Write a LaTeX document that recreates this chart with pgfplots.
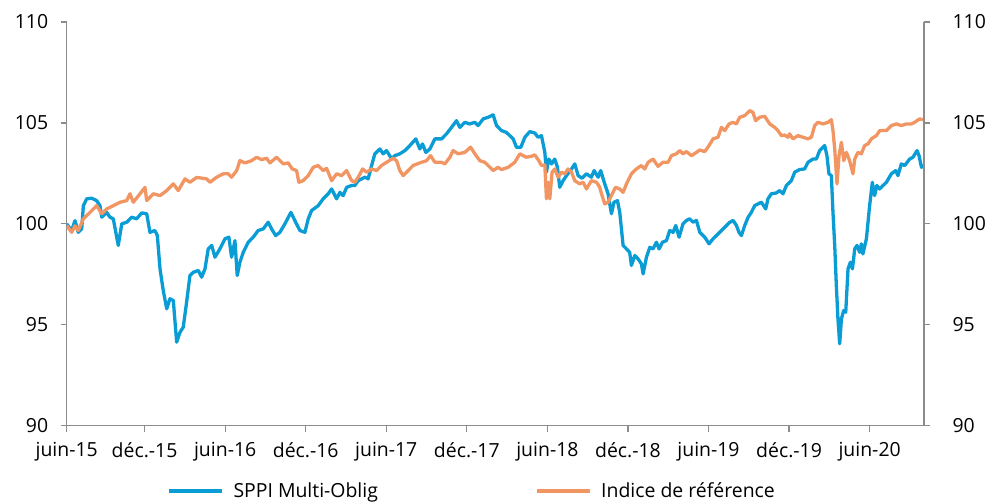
\documentclass[border=0pt]{standalone}
\usepackage{fontspec}
\setmainfont{Open Sans}
\usepackage{pgfplots}
\usepackage{pgfplotstable}
\pgfplotsset{compat=1.18}
\definecolor{sppi}{RGB}{10,156,212}
\definecolor{ind}{RGB}{241,149,99}
\definecolor{axgray}{RGB}{140,140,140}

\pgfplotstableread{
m v
0.20 100.00
0.57 99.67
0.82 100.16
1.06 99.58
1.32 99.75
1.44 100.90
1.69 101.24
2.06 101.27
2.43 101.15
2.68 100.90
2.81 100.33
3.18 100.57
3.42 100.33
3.67 100.25
4.04 98.93
4.30 100.00
4.67 100.08
5.04 100.33
5.41 100.25
5.78 100.54
6.16 100.50
6.40 99.58
6.77 99.67
6.95 99.42
7.15 97.77
7.39 96.70
7.65 95.79
7.89 96.29
8.14 96.20
8.39 94.14
8.64 94.63
8.88 94.88
9.13 96.12
9.38 97.44
9.63 97.60
10.00 97.69
10.25 97.36
10.50 97.77
10.74 98.76
11.00 98.93
11.24 98.35
11.61 98.76
11.99 99.26
12.28 99.34
12.48 98.35
12.73 99.17
12.90 97.44
13.10 98.10
13.35 98.59
13.72 99.09
14.09 99.34
14.46 99.67
14.84 99.75
15.21 100.08
15.46 99.75
15.76 99.42
16.08 99.58
16.45 100.00
16.90 100.57
17.25 100.08
17.57 99.67
17.94 99.58
18.19 100.25
18.44 100.66
18.93 100.90
19.30 101.24
19.68 101.49
19.93 101.73
20.30 101.24
20.55 101.56
20.79 101.40
21.05 101.81
21.42 101.90
21.66 101.90
21.91 102.14
22.41 102.31
22.65 102.23
22.91 102.89
23.15 103.47
23.52 103.71
23.77 103.47
24.02 103.63
24.40 103.22
24.64 103.38
25.01 103.47
25.39 103.63
25.76 103.88
26.20 104.21
26.50 103.71
26.70 103.96
26.95 103.54
27.25 103.71
27.62 104.21
28.12 104.21
28.49 104.46
28.86 104.78
29.23 105.11
29.48 104.78
29.85 105.03
30.22 104.95
30.60 105.03
30.84 104.87
31.22 105.20
31.59 105.28
31.96 105.40
32.21 104.87
32.58 104.62
32.95 104.53
33.20 104.37
33.45 104.21
33.70 103.79
34.02 103.79
34.32 104.29
34.69 104.57
35.06 104.50
35.31 104.29
35.56 104.37
35.81 103.54
35.93 102.56
36.10 103.21
36.31 102.97
36.55 103.21
36.75 102.80
36.92 101.81
37.17 102.14
37.42 102.39
37.80 102.72
38.04 102.97
38.29 102.39
38.58 102.26
38.91 102.48
39.28 102.31
39.48 102.64
39.78 102.31
39.97 102.64
40.27 101.98
40.52 101.49
40.77 100.50
40.96 101.07
41.22 101.15
41.39 100.57
41.64 98.93
41.89 98.76
42.13 98.59
42.26 97.94
42.51 98.43
42.75 98.27
43.00 98.02
43.13 97.52
43.38 98.35
43.63 98.84
43.87 98.76
44.12 99.09
44.32 98.76
44.57 99.09
44.87 99.17
45.11 99.67
45.36 99.58
45.56 99.92
45.81 99.34
46.10 100.00
46.36 100.17
46.60 100.25
46.85 100.08
47.10 100.17
47.35 99.58
47.72 99.34
48.04 99.01
48.34 99.26
48.71 99.50
48.96 99.67
49.21 99.83
49.53 100.05
49.83 100.17
50.08 99.92
50.27 99.58
50.45 99.42
50.70 99.92
50.95 100.33
51.19 100.57
51.44 100.90
51.69 100.99
51.94 101.07
52.26 100.74
52.43 101.24
52.68 101.49
53.05 101.53
53.30 101.65
53.55 101.49
53.80 101.90
54.17 102.14
54.42 102.56
54.79 102.69
55.16 102.72
55.41 103.05
55.78 103.21
56.03 103.21
56.28 103.63
56.65 103.88
56.82 103.38
56.97 102.48
57.15 102.39
57.27 100.57
57.40 98.93
57.52 96.95
57.64 95.30
57.77 94.06
57.90 95.30
58.07 95.71
58.22 95.62
58.39 97.77
58.57 98.10
58.72 97.77
58.89 98.76
59.06 98.93
59.26 98.59
59.38 99.01
59.50 98.51
59.76 99.26
60.00 100.90
60.20 102.06
60.37 101.40
60.54 101.90
60.75 101.73
61.00 101.90
61.25 102.06
61.62 102.48
61.94 102.64
62.11 102.39
62.36 102.97
62.61 102.89
62.98 103.21
63.23 103.30
63.53 103.63
63.68 103.38
63.86 102.80
64.03 102.89
}\sppitable

\pgfplotstableread{
m v
0.20 99.92
0.57 99.58
0.82 99.90
1.06 99.67
1.44 100.25
1.94 100.57
2.43 100.90
2.81 100.50
3.18 100.74
3.67 100.90
4.17 101.07
4.67 101.15
4.91 101.49
5.16 101.07
5.66 101.49
6.03 101.81
6.16 101.15
6.65 101.49
7.15 101.40
7.65 101.65
8.14 101.98
8.51 101.65
9.01 102.23
9.38 102.06
9.88 102.30
10.62 102.23
10.87 102.06
11.37 102.31
11.86 102.48
12.23 102.48
12.48 102.31
12.86 102.64
13.10 103.13
13.47 103.02
13.97 103.13
14.35 103.30
14.72 103.18
15.09 103.25
15.34 103.02
15.83 103.30
16.33 102.97
16.70 103.02
17.00 102.72
17.32 102.64
17.49 102.06
17.81 102.14
18.19 102.39
18.56 102.80
18.93 102.89
19.30 102.64
19.56 102.75
19.93 102.14
20.30 102.48
20.67 102.39
21.05 102.64
21.42 102.14
21.66 102.06
21.91 102.31
22.24 102.72
22.53 102.56
22.91 102.72
23.28 102.64
23.65 102.89
24.02 103.05
24.51 103.25
24.77 103.13
25.01 102.64
25.26 102.39
25.63 102.64
26.00 102.89
26.50 103.02
27.00 103.13
27.30 103.38
27.62 103.05
28.12 103.05
28.36 102.97
28.74 103.30
28.98 103.63
29.35 103.47
29.85 103.54
30.28 103.80
30.60 103.47
30.97 103.13
31.34 103.05
31.59 102.89
31.96 102.64
32.33 102.80
32.58 102.69
33.08 102.80
33.57 103.05
33.95 103.47
34.19 103.38
34.44 103.30
34.82 103.35
35.06 103.42
35.36 103.13
35.56 102.89
35.81 102.92
35.93 101.24
36.05 102.06
36.18 101.24
36.35 102.56
36.55 102.72
36.80 102.31
37.05 102.56
37.30 102.48
37.54 102.72
37.80 102.56
38.04 102.14
38.41 101.98
38.66 102.06
38.91 101.73
39.28 102.14
39.66 102.06
39.90 101.81
40.03 101.49
40.27 100.99
40.52 101.07
40.77 101.40
41.07 101.81
41.39 101.73
41.64 101.56
41.89 101.98
42.26 102.48
42.63 102.72
43.00 102.89
43.25 102.72
43.50 103.05
43.87 103.21
44.24 102.85
44.61 103.05
44.99 103.05
45.24 103.38
45.61 103.47
45.86 103.63
46.10 103.47
46.36 103.58
46.73 103.38
47.10 103.54
47.35 103.66
47.72 103.58
48.04 103.88
48.34 104.21
48.71 104.29
48.96 104.78
49.21 104.62
49.53 104.95
49.83 105.03
50.08 104.95
50.32 105.28
50.70 105.36
51.07 105.61
51.31 105.52
51.51 105.11
51.81 105.28
52.18 105.33
52.56 104.95
52.93 104.78
53.17 104.62
53.43 104.37
53.67 104.40
53.92 104.29
54.04 104.46
54.29 104.21
54.66 104.37
55.04 104.29
55.41 104.21
55.66 104.29
55.91 104.87
56.15 105.03
56.53 104.95
56.90 105.03
57.15 105.16
57.27 104.62
57.40 103.71
57.57 101.98
57.72 103.38
57.90 104.04
58.07 103.13
58.27 103.54
58.51 103.13
58.76 102.48
58.89 103.21
59.13 103.54
59.38 103.47
59.63 103.88
59.88 103.96
60.13 104.21
60.50 104.37
60.75 104.62
61.25 104.62
61.62 104.87
61.99 104.95
62.36 104.87
62.74 104.95
63.11 104.95
63.35 105.03
63.72 105.20
63.97 105.16
}\indtable

\begin{document}
\begin{tikzpicture}
\path[use as bounding box] (-66.7bp,-76.3bp) rectangle (920.3bp,425.7bp);
\pgfplotsset{
  common/.style={
    at={(0,0)}, anchor=south west,
    scale only axis, width=857.3bp, height=403.7bp,
    xmin=0.2, xmax=64.05, ymin=90, ymax=110,
    ytick={90,95,100,105,110},
    tick align=outside,
    major tick length=6bp,
    tick style={axgray, line width=1.2bp},
    axis line style={axgray, line width=1.2bp},
    /pgf/number format/assume math mode=true,
    tick label style={font=\fontsize{19.5}{22}\selectfont, text=black},
  }
}
\begin{axis}[common,
  axis x line*=bottom, axis y line*=left,
  xtick={0.2,6,12,18,24,30,36,42,48,54,60},
  xticklabels={juin-15,déc.-15,juin-16,déc.-16,juin-17,déc.-17,juin-18,déc.-18,juin-19,déc.-19,juin-20},
  x tick label style={yshift=-7bp},
  y tick label style={xshift=-9bp},
  legend columns=2,
  legend style={at={(0.117,-0.162)}, anchor=west, draw=none, fill=none,
    inner sep=0pt, font=\fontsize{19.5}{22}\selectfont,
    /tikz/every even column/.append style={column sep=155bp}},
  legend image code/.code={\draw[#1] (0bp,0bp) -- (53bp,0bp); \path (61bp,0bp);},
]
\addplot[sppi, line width=3.3bp, line join=round] table[x=m, y=v] {\sppitable};
\addlegendentry{SPPI Multi-Oblig}
\addplot[ind, line width=3.3bp, line join=round] table[x=m, y=v] {\indtable};
\addlegendentry{Indice de référence}
\end{axis}
\begin{axis}[common,
  axis x line=none, axis y line*=right,
  y tick label style={xshift=19bp},
]
\end{axis}
\end{tikzpicture}
\end{document}
